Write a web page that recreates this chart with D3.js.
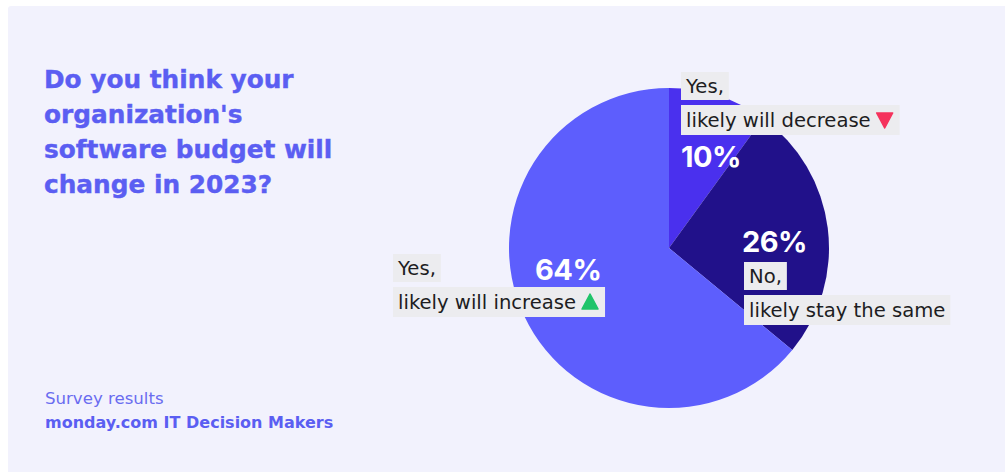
<!DOCTYPE html>
<html>
<head>
<meta charset="utf-8">
<script src="https://cdn.jsdelivr.net/npm/d3@7"></script>
<style>
  html, body { margin: 0; padding: 0; background: #ffffff; }
  svg { display: block; }
</style>
</head>
<body>
<svg id="chart" width="1005" height="472"></svg>
<script>
// Survey answers, in clockwise order starting from 12 o'clock
const categories = ["decrease", "same", "increase"];
const values = [10, 26, 64];
const labelLine1 = ["Yes,", "No,", "Yes,"];
const labelLine2 = ["likely will decrease", "likely stay the same", "likely will increase"];
const titleLines = ["Do you think your", "organization's", "software budget will", "change in 2023?"];
const sourceLines = ["Survey results", "monday.com IT Decision Makers"];

const sliceColors = { decrease: "#4a30ee", same: "#21118a", increase: "#5d5efd" };
const accent = "#5b5ef2";
const wide = "'DejaVu Sans', sans-serif";
const font = "Inter, 'Open Sans', sans-serif";

const svg = d3.select("#chart");

// light panel behind everything
svg.append("rect").attr("x", 8).attr("y", 6).attr("width", 1005).attr("height", 480)
  .attr("rx", 3).attr("fill", "#f2f2fd");

// title
const title = svg.append("text").attr("font-family", wide).attr("font-weight", 700)
  .attr("font-size", 24.8).attr("fill", accent)
  .attr("stroke", accent).attr("stroke-width", 0.4);
titleLines.forEach((t, i) => {
  title.append("tspan").attr("x", 44).attr("y", 88 + i * 35).text(t);
});

// source note
svg.append("text").attr("x", 45).attr("y", 404).attr("font-family", wide)
  .attr("font-size", 16.6).attr("fill", "#6a6cf0").text(sourceLines[0]);
svg.append("text").attr("x", 45).attr("y", 428).attr("font-family", wide)
  .attr("font-weight", 700).attr("font-size", 16).attr("fill", accent).text(sourceLines[1]);

// pie
const cx = 669, cy = 248, r = 160;
const pie = d3.pie().sort(null).value(d => d.value);
const arc = d3.arc().innerRadius(0).outerRadius(r);
const data = categories.map((c, i) => ({ key: c, value: values[i] }));
const arcs = pie(data);

const g = svg.append("g").attr("transform", `translate(${cx},${cy})`);
g.selectAll("path").data(arcs).join("path")
  .attr("d", arc)
  .attr("fill", d => sliceColors[d.data.key]);

// callout placements for each slice
const place = {
  decrease: { pct: [681, 167], box: [681, 72] },
  same:     { pct: [742, 252], box: [744, 262] },
  increase: { pct: [535, 280], box: [393, 254] }
};

const fmt = d => d + "%";

arcs.forEach((a, i) => {
  const k = a.data.key;
  const p = place[k];
  // percentage figure
  svg.append("text").attr("x", p.pct[0]).attr("y", p.pct[1])
    .attr("font-family", font).attr("font-weight", 700).attr("font-size", 29)
    .attr("fill", "#ffffff").attr("letter-spacing", -0.5).text(fmt(a.data.value));

  // two-line label on light chips
  const lab = svg.append("g").attr("transform", `translate(${p.box[0]},${p.box[1]})`);
  const t1 = lab.append("text").attr("x", 5).attr("y", 21)
    .attr("font-family", wide).attr("font-size", 19.6).attr("fill", "#1d1d22").text(labelLine1[i]);
  const w1 = t1.node().getComputedTextLength();
  lab.insert("rect", "text").attr("x", 0).attr("y", 0).attr("width", w1 + 10).attr("height", 28)
    .attr("fill", "#ececef");

  const t2 = lab.append("text").attr("x", 5).attr("y", 55)
    .attr("font-family", wide).attr("font-size", 19.6).attr("fill", "#1d1d22").text(labelLine2[i]);
  const w2 = t2.node().getComputedTextLength();
  const hasMarker = k !== "same";
  const boxW = w2 + 10 + (hasMarker ? 24 : 0);
  lab.insert("rect", "text").attr("x", 0).attr("y", 33).attr("width", boxW).attr("height", 30)
    .attr("fill", "#ececef");

  if (hasMarker) {
    const mx = w2 + 19, my = 48;
    const tri = k === "decrease"
      ? `M${mx - 8},${my - 7} L${mx + 8},${my - 7} L${mx},${my + 8} Z`
      : `M${mx - 8},${my + 7} L${mx + 8},${my + 7} L${mx},${my - 8} Z`;
    lab.append("path").attr("d", tri)
      .attr("fill", k === "decrease" ? "#f5325c" : "#1fc46a")
      .attr("stroke", k === "decrease" ? "#f5325c" : "#1fc46a")
      .attr("stroke-linejoin", "round").attr("stroke-width", 1.5);
  }
});
</script>
</body>
</html>
